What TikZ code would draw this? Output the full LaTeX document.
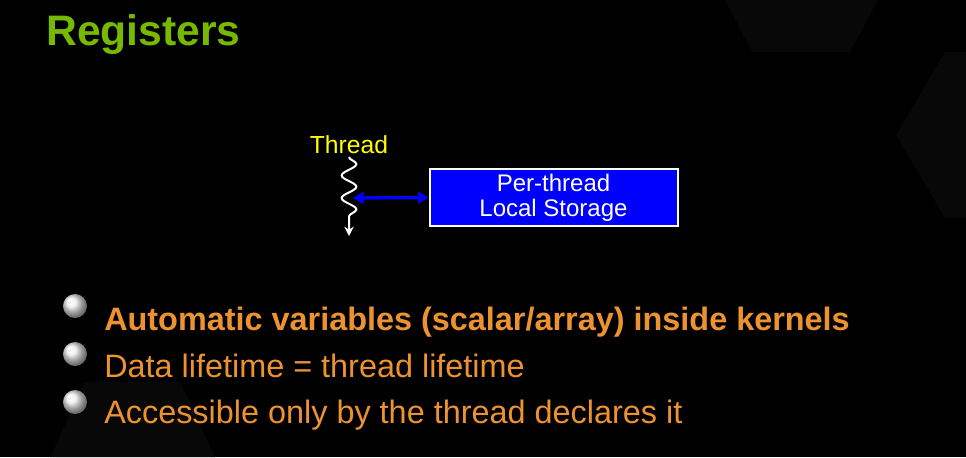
\documentclass[tikz,border=0pt]{standalone}
\usepackage{fontspec}
\setmainfont{Liberation Sans}
\usetikzlibrary{positioning,decorations.pathmorphing,arrows.meta}

\definecolor{nvgreen}{RGB}{118,185,0}
\definecolor{bulletorange}{RGB}{236,146,48}
\definecolor{boxblue}{RGB}{0,0,255}
\definecolor{threadyellow}{RGB}{255,255,0}
\definecolor{hexgray}{RGB}{8,8,8}

\begin{document}
\begin{tikzpicture}[
    x=0.75pt, y=-0.75pt,
    item/.style={anchor=base west, inner sep=0pt, text=bulletorange, font=\fontsize{24.3}{28}\selectfont},
    ball/.style={circle, inner sep=0pt, minimum size=18pt, shading=ball, ball color=gray!12!white},
  ]

  % Background
  \fill[black] (0,0) rectangle (966,457);
  \useasboundingbox (0,0) rectangle (966,457);
  \fill[hexgray] (725,0) -- (878,0) -- (850,52) -- (752,52) -- cycle;
  \fill[hexgray] (966,52) -- (945,52) -- (896,135) -- (945,218) -- (966,218) -- cycle;
  \fill[hexgray] (85,382) -- (180,382) -- (215,457) -- (50,457) -- cycle;

  % Title
  \node[anchor=base west, inner sep=0pt, text=nvgreen, font=\fontsize{32}{38}\selectfont\bfseries] (title) at (46,45) {Registers};

  % Thread
  \node[anchor=base, inner sep=0pt, text=threadyellow, font=\fontsize{18.5}{21}\selectfont] (thread) at (349,153) {Thread};
  \coordinate (wtop) at (349,157);
  \coordinate (wbot) at (349,236);
  \coordinate (wmid) at (353,198);
  \draw[white, line width=1.5pt, -{Stealth[length=7pt,width=7pt]},
    decorate, decoration={snake, amplitude=5.5pt, segment length=17pt, post length=8pt}]
    (wtop) -- (wbot);

  % Local storage box
  \node[draw=white, fill=boxblue, line width=1.5pt, minimum width=186pt, minimum height=42pt,
    align=center, text=white, font=\fontsize{18}{19}\selectfont] (storage) at (553.5,197.5)
    {Per-thread\\Local Storage};

  % Access arrow
  \draw[boxblue, line width=2.5pt, {Triangle[length=8pt,width=9pt]}-{Triangle[length=8pt,width=9pt]}]
    (wmid) -- (storage.west);

  % Bullets
  \node[ball] (b1) at (75,306) {};
  \node[ball] (b2) at (75,354) {};
  \node[ball] (b3) at (75,402) {};

  \node[item, font=\fontsize{24.3}{28}\selectfont\bfseries] (t1) at (104,330) {Automatic variables (scalar/array) inside kernels};
  \node[item] (t2) at (104,377) {Data lifetime = thread lifetime};
  \node[item] (t3) at (104,423) {Accessible only by the thread declares it};

\end{tikzpicture}
\end{document}
